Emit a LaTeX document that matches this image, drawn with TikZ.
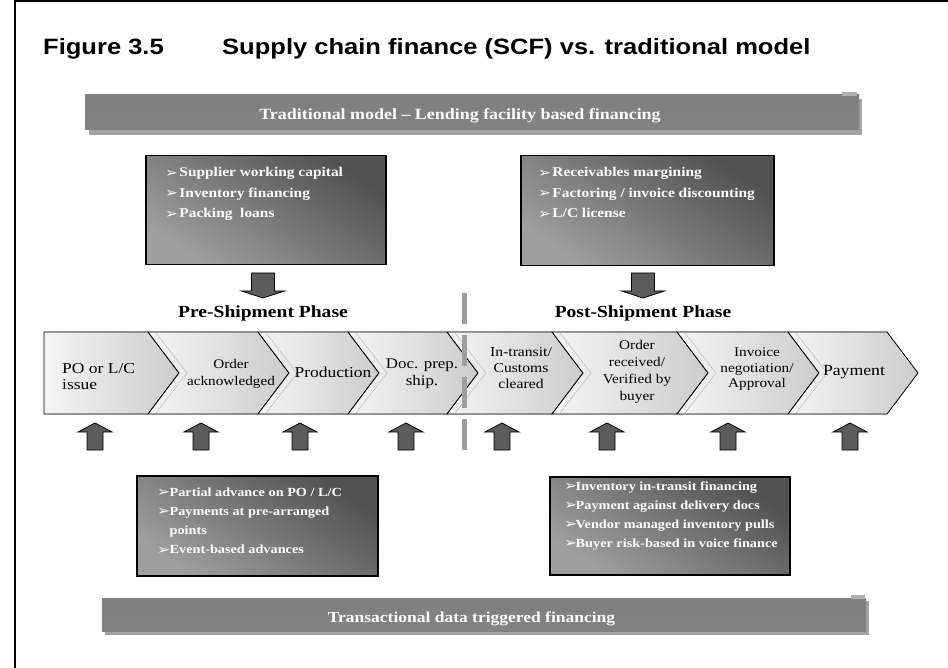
\documentclass[tikz,border=0pt]{standalone}
\usepackage{fontspec}
\usepackage{graphicx}
\setmainfont{Liberation Serif}
\newfontfamily\titlefont{Liberation Sans}
\newfontfamily\dejavu{DejaVu Sans}
\newcommand{\hs}[1]{\scalebox{1.15}[1]{#1}}
\newcommand{\bul}{\raisebox{-0.3pt}{\dejavu\fontsize{13.5}{13.5}\selectfont ➢}}
\newcommand{\bl}[1]{\makebox[#1pt][l]{\bul}}
\definecolor{boxdark}{gray}{0.32}
\definecolor{boxlight}{gray}{0.62}
\definecolor{arrowfill}{gray}{0.36}
\definecolor{bantop}{gray}{0.50}
\definecolor{banmid}{gray}{0.57}
\definecolor{banbot}{gray}{0.51}
\definecolor{bansh}{gray}{0.64}
\definecolor{chevlight}{gray}{0.96}
\definecolor{chevdark}{gray}{0.80}
\definecolor{glossc}{gray}{0.72}
\definecolor{divc}{gray}{0.62}
\begin{document}
\begin{tikzpicture}[x=1pt,y=-1pt,
  fbox/.style={draw=black, line width=1.5pt, top color=boxdark, bottom color=boxlight, shading angle=-35, inner sep=0, anchor=north west},
  boxtext/.style={text=white, font=\bfseries, inner sep=0, anchor=base west},
  banner/.style={top color=bantop, middle color=banmid, bottom color=banbot, inner sep=0},
  bantext/.style={text=white, font=\bfseries, inner sep=0, anchor=base},
  chev/.style={draw=black, line width=0.8pt, left color=chevlight, right color=chevdark},
  gloss/.style={glossc, line width=0.5pt},
  chevtext/.style={inner sep=0, text=black},
  phase/.style={font=\bfseries\fontsize{17}{19}\selectfont, inner sep=0, anchor=base},
  blockarrow/.style={fill=arrowfill, draw=black, line width=0.8pt},
  divider/.style={divc, line width=5pt, dash pattern=on 31pt off 11pt}
]
\useasboundingbox (0,0) rectangle (948,668);
% frame
\draw[line width=1.5pt] (15,668) -- (15,1) -- (948,1);
% title
\node[anchor=base west, inner sep=0] (figno) at (43,55) {\titlefont\bfseries\fontsize{22.2}{24}\selectfont\hs{Figure 3.5}};
\node[anchor=base west, inner sep=0] (title) at (222,55) {\titlefont\bfseries\fontsize{22.2}{24}\selectfont\hs{Supply chain finance (SCF) vs. traditional model}};
% top banner
\fill[bansh] (89,99) rectangle (862,135);
\node[banner, minimum width=774pt, minimum height=35pt] (ban1) at (472,112.5) {};
\fill[gray!62] (842,92) rectangle (857,96);
\node[bantext] (ban1t) at (460,120) {\fontsize{15.6}{18}\selectfont\hs{Traditional model -- Lending facility based financing}};
% top boxes
\node[fbox, minimum width=240pt, minimum height=109pt] (box1) at (145,155) {};
\node[boxtext] (box1t) at (165,177) {\fontsize{13.4}{20.5}\selectfont\hs{\begin{tabular}[t]{@{}l@{}}\bl{12.4}Supplier working capital\\ \bl{12.4}Inventory financing\\ \bl{12.4}Packing\ \ loans\end{tabular}}};
\node[fbox, minimum width=253pt, minimum height=110pt] (box2) at (520,155) {};
\node[boxtext] (box2t) at (538,177) {\fontsize{13.4}{20.5}\selectfont\hs{\begin{tabular}[t]{@{}l@{}}\bl{12.4}Receivables margining\\ \bl{12.4}Factoring / invoice discounting\\ \bl{12.4}L/C license\end{tabular}}};
% down arrows
\foreach \c in {263,643} {
  \filldraw[blockarrow] (\c-11.5,273) -- (\c+11.5,273) -- (\c+11.5,291) -- (\c+21.5,291) -- (\c,298) -- (\c-21.5,291) -- (\c-11.5,291) -- cycle;
}
% phase labels
\node[phase] (pre) at (263,318) {\hs{Pre-Shipment Phase}};
\node[phase] (post) at (643,318) {\hs{Post-Shipment Phase}};
% chevrons
\filldraw[chev] (44,332) -- (148,332) -- (179,373) -- (148,414) -- (44,414) -- cycle;
\foreach \a/\b in {148/258, 258/348, 348/447, 447/552, 552/677, 677/788, 788/887} {
  \filldraw[chev] (\a,332) -- (\b,332) -- (\b+31,373) -- (\b,414) -- (\a,414) -- (\a+31,373) -- cycle;
  \draw[gloss] (\a+8,333) -- (\a+39,373) -- (\a+8,413);
}
% chevron texts
\node[chevtext, anchor=west] (c1) at (62,378) {\fontsize{15.2}{16.5}\selectfont\hs{\begin{tabular}{@{}l@{}}PO or L/C\\ issue\end{tabular}}};
\node[chevtext] (c2) at (231,373.5) {\fontsize{13.2}{16.5}\selectfont\hs{\begin{tabular}{@{}c@{}}Order\\ acknowledged\end{tabular}}};
\node[chevtext] (c3) at (333,372) {\fontsize{15.2}{16.5}\selectfont\hs{Production}};
\node[chevtext] (c4) at (422,374) {\fontsize{14.7}{17}\selectfont\hs{\begin{tabular}{@{}c@{}}Doc. prep.\\ ship.\end{tabular}}};
\node[chevtext] (c5) at (521,369) {\fontsize{13.6}{16}\selectfont\hs{\begin{tabular}{@{}c@{}}In-transit/\\ Customs\\ cleared\end{tabular}}};
\node[chevtext] (c6) at (637,371.5) {\fontsize{13.3}{17.3}\selectfont\hs{\begin{tabular}{@{}c@{}}Order\\ received/\\ Verified by\\ buyer\end{tabular}}};
\node[chevtext] (c7) at (757,369) {\fontsize{13.3}{15.8}\selectfont\hs{\begin{tabular}{@{}c@{}}Invoice\\ negotiation/\\ Approval\end{tabular}}};
\node[chevtext] (c8) at (854,372) {\fontsize{15.4}{16.5}\selectfont\hs{Payment}};
% divider
\draw[divider] (464,293) -- (464,453);
% up arrows
\foreach \c in {95,201,300,406,502,607,728,850} {
  \filldraw[blockarrow] (\c-8,450) -- (\c-8,432) -- (\c-17,432) -- (\c,423) -- (\c+17,432) -- (\c+8,432) -- (\c+8,450) -- cycle;
}
% bottom boxes
\node[fbox, minimum width=241pt, minimum height=100pt] (box3) at (136,475) {};
\node[boxtext] (box3t) at (157,496) {\fontsize{12.4}{19.3}\selectfont\hs{\begin{tabular}[t]{@{}l@{}}\bl{10.8}Partial advance on PO / L/C\\ \bl{10.8}Payments at pre-arranged\\ \makebox[10.8pt]{}points\\ \bl{10.8}Event-based advances\end{tabular}}};
\node[fbox, minimum width=240pt, minimum height=98pt] (box4) at (549,476) {};
\node[boxtext] (box4t) at (564,490) {\fontsize{12.4}{19}\selectfont\hs{\begin{tabular}[t]{@{}l@{}}\bl{10}Inventory in-transit financing\\ \bl{10}Payment against delivery docs\\ \bl{10}Vendor managed inventory pulls\\ \bl{10}Buyer risk-based in voice finance\end{tabular}}};
% bottom banner
\fill[bansh] (105,601) rectangle (869,635);
\node[banner, minimum width=764pt, minimum height=33pt] (ban2) at (484,614.5) {};
\fill[gray!62] (851,595) rectangle (865,599);
\node[bantext] (ban2t) at (471.5,622) {\fontsize{15.2}{18}\selectfont\hs{Transactional data triggered financing}};
\end{tikzpicture}
\end{document}
